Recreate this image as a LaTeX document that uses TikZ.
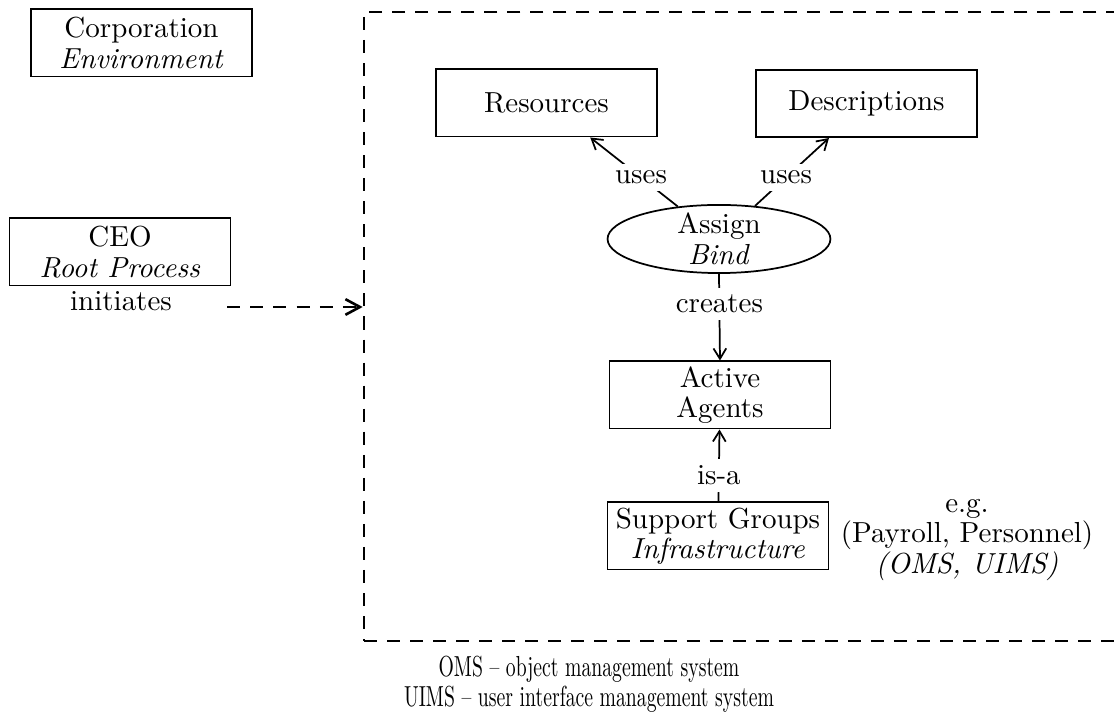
\documentclass[tikz,border=0pt]{standalone}
\usetikzlibrary{shapes.geometric,arrows.meta}
\begin{document}
\begin{tikzpicture}[x=0.345pt,y=-0.345pt,
  every node/.style={font=\fontsize{10}{10.5}\selectfont},
  box/.style={draw, line width=0.6pt, rectangle, minimum width=76.2pt,
    minimum height=23.2pt, inner sep=0pt, align=center},
  oval/.style={draw, ellipse, line width=0.6pt, minimum width=76.9pt,
    minimum height=23.5pt, inner sep=0pt},
  rel/.style={line width=0.6pt, -{Straight Barb[length=3.6pt,width=4.4pt]}},
  tag/.style={fill=white, inner sep=2.4pt},
  bound/.style={draw, line width=0.9pt, dash pattern=on 4.5pt off 3.45pt},
  kick/.style={line width=0.9pt, dash pattern=on 4.5pt off 3.5pt,
    -{Straight Barb[length=5pt,width=5.4pt]}}]
\useasboundingbox (0,0) rectangle (1114,720);
\clip (0,0) rectangle (1114,720);

% the environment and the root process outside the organisation
\node[box] (corp) at (141.5,43) {Corporation\\\textit{Environment}};
\node[box] (ceo) at (120,252) {CEO\\\textit{Root Process}};
\node (init) at (121,301) {initiates};

% the organisation, open to the right
\node[bound, minimum width=264.3pt, minimum height=217pt, inner sep=0pt]
  (work) at (747,326.5) {};

% inside the organisation
\node[box] (res) at (546.5,103) {Resources};
\node[box] (desc) at (866.5,103.5) {Descriptions};
\node[oval, label={[align=center]center:Assign\\\textit{Bind}}] (assign) at (719,239) {};
\node[box] (agents) at (720,395) {Active\\Agents};
\node[box] (support) at (718,536) {Support Groups\\\textit{Infrastructure}};
\node[align=center] (eg) at (967,540) {e.g.\\(Payroll, Personnel)\\\textit{(OMS, UIMS)}};

% abbreviations, set in a narrow face
\node[align=center] (note) at (589,684)
  {\scalebox{0.68}[1]{OMS -- object management system}\\
   \scalebox{0.68}[1]{UIMS -- user interface management system}};

% relations
\draw[rel] (assign) -- node[tag, pos=0.42] {uses} (res);
\draw[rel] (assign) -- node[tag, pos=0.42] {uses} (desc);
\draw[rel] (assign.south) -- node[tag, pos=0.35] {creates} (agents.north);
\draw[rel] (support) -- node[tag, pos=0.36] {is-a} (agents);

% the root process starts the organisation
\coordinate (tail) at (227,307);
\draw[kick] (tail) -- (tail -| work.west);
\end{tikzpicture}
\end{document}
